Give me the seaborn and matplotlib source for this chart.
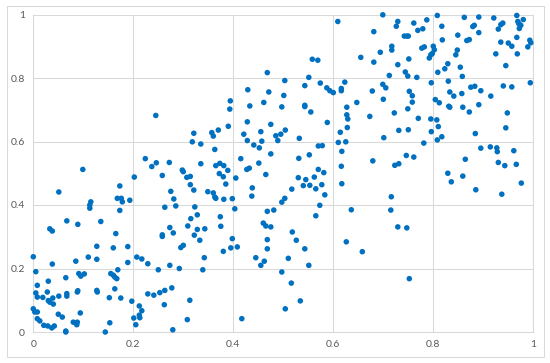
import matplotlib
matplotlib.use("Agg")
import matplotlib.pyplot as plt
import seaborn as sns
import pandas as pd
from matplotlib.patches import Rectangle

x_values = [
    0.245,
    0.468, 0.429, 0.471, 0.394, 0.433, 0.461, 0.497, 0.393,
    0.699, 0.609, 0.729, 0.726, 0.681, 0.742, 0.747, 0.717, 0.717, 0.694,
    0.655, 0.681, 0.558, 0.569, 0.729, 0.744, 0.503, 0.551, 0.712, 0.543,
    0.574, 0.623, 0.587, 0.593, 0.600, 0.616, 0.616, 0.699, 0.705, 0.678,
    0.501, 0.700, 0.647, 0.543, 0.543, 0.555, 0.627, 0.627, 0.673, 0.722,
    0.808, 0.862, 0.891, 0.921, 0.967, 0.980, 0.969, 0.971, 0.975, 0.972,
    0.939, 0.935, 0.930, 0.761, 0.787, 0.779, 0.769, 0.817, 0.882, 0.879,
    0.891, 0.849, 0.750, 0.967, 0.818, 0.867, 0.872, 0.935, 0.950, 0.957,
    0.993, 0.995, 0.989, 0.777, 0.782, 0.800, 0.802, 0.798, 0.795, 0.792,
    0.848, 0.845, 0.925, 0.968, 0.751, 0.829, 0.823, 0.854, 0.945, 0.809,
    0.749, 0.767, 0.858, 0.796, 0.830, 0.994, 0.752, 0.758, 0.758, 0.749,
    0.833, 0.841, 0.857, 0.875, 0.883, 0.895, 0.915, 0.940, 0.957, 0.804,
    0.812, 0.831, 0.833, 0.859, 0.891, 0.872, 0.948,
    0.224, 0.237, 0.246, 0.099, 0.202, 0.173, 0.051, 0.168, 0.176, 0.178,
    0.193, 0.115, 0.113, 0.113, 0.173, 0.067, 0.135,
    0.428, 0.475, 0.390, 0.370, 0.357, 0.360, 0.321, 0.318, 0.335, 0.363,
    0.421, 0.428, 0.455, 0.457, 0.441, 0.452, 0.485, 0.495, 0.489, 0.475,
    0.415, 0.272, 0.335, 0.365, 0.373, 0.381, 0.389, 0.372, 0.380, 0.451,
    0.427, 0.432, 0.465, 0.405, 0.298, 0.300, 0.258, 0.307, 0.314, 0.314,
    0.321, 0.385, 0.438, 0.275, 0.349, 0.360, 0.363, 0.365, 0.381, 0.398,
    0.437, 0.281, 0.263, 0.285, 0.323, 0.403, 0.497, 0.481, 0.468, 0.328,
    0.315, 0.374, 0.460,
    0.629, 0.588, 0.504, 0.628, 0.614, 0.731, 0.532, 0.701, 0.610, 0.625,
    0.570, 0.578, 0.617, 0.552, 0.531, 0.746, 0.679, 0.723, 0.731, 0.616,
    0.570, 0.581, 0.530, 0.545, 0.562, 0.540, 0.553, 0.565, 0.577, 0.617,
    0.517, 0.583, 0.503, 0.716, 0.573, 0.636, 0.715, 0.565,
    0.770, 0.795, 0.807, 0.750, 0.810, 0.796, 0.817, 0.808, 0.781, 0.884,
    0.945, 0.761, 0.895, 0.914, 0.927, 0.928, 0.961, 0.864, 0.930, 0.943,
    0.966, 0.829, 0.859, 0.836, 0.976, 0.885, 0.937,
    0.033, 0.038, 0.089, 0.165, 0.127, 0.160, 0.189, 0.000, 0.110, 0.127,
    0.085, 0.038, 0.189, 0.207, 0.217, 0.229, 0.005, 0.169, 0.155, 0.160,
    0.163, 0.167, 0.091, 0.095, 0.102, 0.065, 0.030, 0.008, 0.163, 0.089,
    0.088, 0.127, 0.128, 0.005, 0.008, 0.028, 0.030, 0.033, 0.019, 0.039,
    0.051, 0.067, 0.067, 0.040, 0.152, 0.175, 0.197, 0.229, 0.241, 0.212,
    0.217, 0.000, 0.003, 0.008, 0.050, 0.058, 0.094, 0.008, 0.013, 0.021,
    0.029, 0.037, 0.042, 0.080, 0.085, 0.088, 0.087, 0.065, 0.065, 0.153,
    0.144, 0.212, 0.213, 0.201, 0.205,
    0.273, 0.258, 0.258, 0.280, 0.309, 0.328, 0.343, 0.322, 0.333, 0.295,
    0.300, 0.342, 0.375, 0.398, 0.380, 0.395, 0.408, 0.465, 0.475, 0.468,
    0.468, 0.445, 0.462, 0.455, 0.250, 0.273, 0.292, 0.339, 0.253, 0.263,
    0.277, 0.262, 0.313, 0.308, 0.279, 0.417, 0.497,
    0.729, 0.747, 0.518, 0.526, 0.626, 0.543, 0.658, 0.510, 0.551, 0.516,
    0.534, 0.504, 0.752,
]

y_values = [
    0.682,
    0.817, 0.763, 0.756, 0.728, 0.712, 0.723, 0.709, 0.702,
    0.999, 0.978, 0.978, 0.963, 0.946, 0.932, 0.932, 0.900, 0.888, 0.881,
    0.865, 0.850, 0.859, 0.856, 0.842, 0.819, 0.792, 0.802, 0.808, 0.776,
    0.784, 0.787, 0.769, 0.760, 0.754, 0.767, 0.760, 0.780, 0.769, 0.759,
    0.745, 0.733, 0.723, 0.714, 0.710, 0.693, 0.708, 0.684, 0.679, 0.690,
    0.997, 0.991, 0.992, 0.989, 0.997, 0.984, 0.978, 0.971, 0.966, 0.956,
    0.973, 0.968, 0.954, 0.973, 0.983, 0.955, 0.950, 0.963, 0.966, 0.962,
    0.943, 0.935, 0.932, 0.928, 0.920, 0.918, 0.921, 0.913, 0.910, 0.900,
    0.919, 0.911, 0.898, 0.894, 0.898, 0.900, 0.889, 0.877, 0.873, 0.863,
    0.888, 0.873, 0.876, 0.876, 0.860, 0.845, 0.829, 0.834, 0.839, 0.818,
    0.806, 0.802, 0.805, 0.785, 0.790, 0.785, 0.758, 0.744, 0.724, 0.703,
    0.756, 0.743, 0.751, 0.771, 0.774, 0.760, 0.743, 0.775, 0.772, 0.732,
    0.722, 0.711, 0.708, 0.708, 0.716, 0.693, 0.690,
    0.546, 0.521, 0.533, 0.512, 0.488, 0.460, 0.441, 0.421, 0.421, 0.410,
    0.415, 0.410, 0.400, 0.390, 0.383, 0.350, 0.348,
    0.662, 0.654, 0.648, 0.636, 0.628, 0.617, 0.626, 0.599, 0.592, 0.575,
    0.623, 0.603, 0.631, 0.601, 0.589, 0.580, 0.618, 0.623, 0.603, 0.561,
    0.546, 0.534, 0.530, 0.524, 0.531, 0.524, 0.509, 0.499, 0.489, 0.532,
    0.512, 0.516, 0.496, 0.485, 0.510, 0.505, 0.493, 0.487, 0.490, 0.464,
    0.447, 0.466, 0.454, 0.443, 0.442, 0.438, 0.425, 0.421, 0.418, 0.420,
    0.428, 0.419, 0.393, 0.397, 0.394, 0.388, 0.409, 0.384, 0.380, 0.369,
    0.357, 0.363, 0.343,
    0.671, 0.660, 0.636, 0.644, 0.629, 0.635, 0.610, 0.612, 0.597, 0.599,
    0.586, 0.587, 0.569, 0.558, 0.547, 0.556, 0.539, 0.525, 0.530, 0.522,
    0.512, 0.502, 0.486, 0.480, 0.488, 0.461, 0.462, 0.451, 0.464, 0.467,
    0.450, 0.432, 0.421, 0.426, 0.399, 0.385, 0.384, 0.366,
    0.673, 0.671, 0.668, 0.637, 0.647, 0.631, 0.615, 0.605, 0.595, 0.625,
    0.643, 0.551, 0.579, 0.583, 0.580, 0.568, 0.571, 0.544, 0.534, 0.524,
    0.528, 0.500, 0.491, 0.473, 0.469, 0.448, 0.434,
    0.325, 0.318, 0.339, 0.310, 0.270, 0.265, 0.269, 0.237, 0.236, 0.229,
    0.223, 0.214, 0.219, 0.236, 0.230, 0.215, 0.190, 0.196, 0.184, 0.179,
    0.173, 0.168, 0.184, 0.176, 0.183, 0.171, 0.160, 0.147, 0.136, 0.130,
    0.126, 0.131, 0.126, 0.123, 0.110, 0.126, 0.099, 0.094, 0.109, 0.107,
    0.113, 0.121, 0.113, 0.088, 0.108, 0.107, 0.097, 0.120, 0.116, 0.082,
    0.067, 0.073, 0.063, 0.063, 0.056, 0.047, 0.060, 0.042, 0.035, 0.021,
    0.019, 0.013, 0.019, 0.031, 0.028, 0.031, 0.023, 0.003, 0.000, 0.029,
    0.000, 0.053, 0.045, 0.044, 0.023,
    0.329, 0.306, 0.301, 0.312, 0.334, 0.323, 0.325, 0.305, 0.289, 0.266,
    0.273, 0.234, 0.333, 0.294, 0.254, 0.265, 0.268, 0.334, 0.331, 0.291,
    0.262, 0.234, 0.223, 0.210, 0.196, 0.210, 0.200, 0.196, 0.124, 0.131,
    0.139, 0.086, 0.100, 0.039, 0.007, 0.042, 0.189,
    0.331, 0.328, 0.315, 0.289, 0.284, 0.262, 0.253, 0.232, 0.210, 0.154,
    0.098, 0.073, 0.168,
]

tick_values = [0, 0.2, 0.4, 0.6, 0.8, 1]
tick_labels = ["0", "0.2", "0.4", "0.6", "0.8", "1"]

sns.set_style("white")
plt.rcParams['font.family'] = ['Lato', 'DejaVu Sans']

fig = plt.figure(figsize=(5.5, 3.63), dpi=100)
ax = fig.add_axes([33.3 / 550, 31 / 363, 500 / 550, 317.5 / 363])

df = pd.DataFrame({"x": x_values, "y": y_values})
sns.scatterplot(data=df, x="x", y="y", ax=ax, s=16, color="#0070C0",
                edgecolor="none", linewidth=0, zorder=3, clip_on=False)

ax.set_xlim(0, 1)
ax.set_ylim(0, 1)
ax.set_xticks(tick_values)
ax.set_xticklabels(tick_labels)
ax.set_yticks(tick_values)
ax.set_yticklabels(tick_labels)
ax.set_xlabel("")
ax.set_ylabel("")
ax.grid(True, color="#d9d9d9", linewidth=0.75)
ax.set_axisbelow(True)
for sp in ax.spines.values():
    sp.set_color("#d9d9d9")
    sp.set_linewidth(0.75)
ax.tick_params(length=0, pad=6, labelsize=7.5, colors="#595959")

fig.patches.append(Rectangle((6.5 / 550, 6 / 363), 537 / 550, 351 / 363,
                             transform=fig.transFigure, fill=False,
                             edgecolor="#d9d9d9", linewidth=0.75))

fig.savefig("out.png", dpi=100)
